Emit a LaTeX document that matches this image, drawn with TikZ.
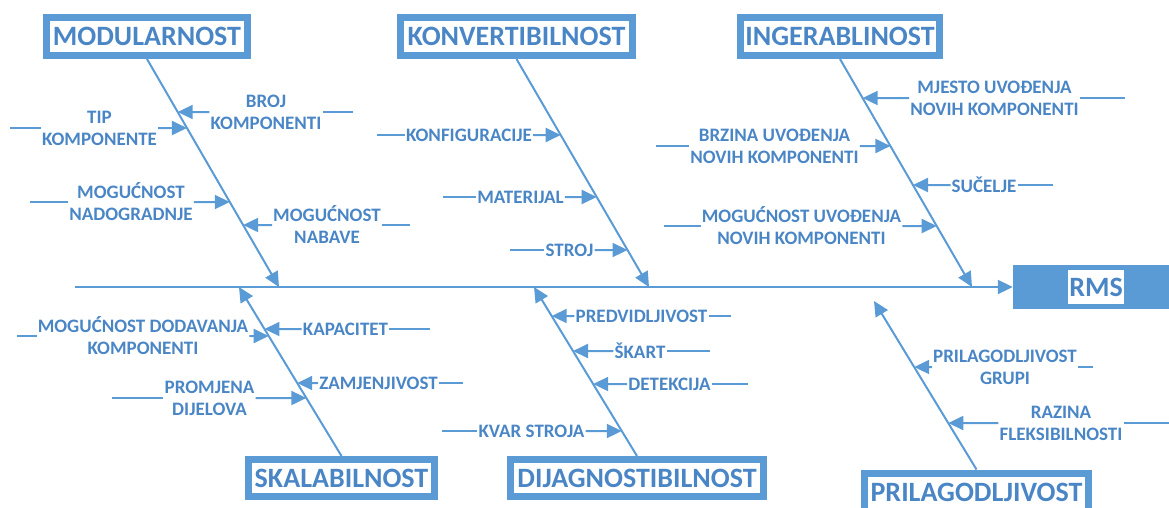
\documentclass[tikz,border=0pt]{standalone}
\usepackage{fontspec}
\setmainfont{Carlito}
\usetikzlibrary{arrows.meta}
\definecolor{wblue}{HTML}{5B9BD5}
\definecolor{tblue}{HTML}{4A86C6}
\begin{document}
\begin{tikzpicture}[x=1pt,y=-1pt,
  bone/.style={draw=wblue, line width=2pt},
  arr/.style={bone, -{Triangle[length=15pt,width=14pt]}},
  cat/.style={draw=wblue, line width=7pt, fill=white, text=tblue, font=\bfseries\fontsize{28}{30}\selectfont, minimum height=38pt, inner sep=0pt},
  lab/.style={text=tblue, font=\bfseries\fontsize{19}{22}\selectfont, align=center, inner xsep=1pt, inner ysep=0pt}
]
\clip (0,0) rectangle (1169,508);
% category boxes
\node[cat, minimum width=201pt] (mod) at (147,36.5) {MODULARNOST};
\node[cat, minimum width=232pt] (kon) at (516.5,36.5) {KONVERTIBILNOST};
\node[cat, minimum width=199pt] (ing) at (840,36.5) {INGERABLINOST};
\node[cat, minimum width=186pt, minimum height=37pt] (ska) at (341.5,478) {SKALABILNOST};
\node[cat, minimum width=253pt, minimum height=37pt] (dij) at (637,478) {DIJAGNOSTIBILNOST};
\node[cat, minimum width=224pt] (pri) at (976.5,492) {PRILAGODLJIVOST};
% effect
\node[fill=wblue, minimum width=166pt, minimum height=44pt, inner sep=0pt] (rms) at (1096,287) {};
\node[fill=white, text=tblue, font=\bfseries\fontsize{28}{30}\selectfont, inner xsep=1pt, minimum height=34pt] (rmst) at (rms.center) {RMS};
% spine
\coordinate (tail) at (75,287);
\draw[arr] (tail) -- (rms.west);
% bones
\coordinate (bm) at (279,287);
\coordinate (bk) at (649,287);
\coordinate (bi) at (972,287);
\coordinate (bs) at (239,287);
\coordinate (bd) at (534,287);
\coordinate (bp) at (874,301);
\draw[arr] (mod.south) -- (bm);
\draw[arr] (kon.south) -- (bk);
\draw[arr] (ing.south) -- (bi);
\draw[arr] (ska.north) -- (bs);
\draw[arr] (dij.north) -- (bd);
\draw[arr] (pri.north) -- (bp);

% ---- MODULARNOST causes
\node[lab] (l1) at (99.5,128) {TIP\\KOMPONENTE};
\coordinate (s1) at (10,128);
\coordinate (t1) at (intersection of mod.south--bm and 0,128--1,128);
\draw[bone] (s1) -- (l1); \draw[arr] (l1) -- (t1);

\node[lab] (l2) at (266,112) {BROJ\\KOMPONENTI};
\coordinate (s2) at (353,112);
\coordinate (t2) at (intersection of mod.south--bm and 0,112--1,112);
\draw[bone] (s2) -- (l2); \draw[arr] (l2) -- (t2);

\node[lab] (l3) at (131,202) {MOGUĆNOST\\NADOGRADNJE};
\coordinate (s3) at (30,202);
\coordinate (t3) at (intersection of mod.south--bm and 0,202--1,202);
\draw[bone] (s3) -- (l3); \draw[arr] (l3) -- (t3);

\node[lab] (l4) at (327,225) {MOGUĆNOST\\NABAVE};
\coordinate (s4) at (410,225);
\coordinate (t4) at (intersection of mod.south--bm and 0,225--1,225);
\draw[bone] (s4) -- (l4); \draw[arr] (l4) -- (t4);

% ---- KONVERTIBILNOST causes
\node[lab] (l5) at (469,135) {KONFIGURACIJE};
\coordinate (s5) at (377,135);
\coordinate (t5) at (intersection of kon.south--bk and 0,135--1,135);
\draw[bone] (s5) -- (l5); \draw[arr] (l5) -- (t5);

\node[lab] (l6) at (520.5,197) {MATERIJAL};
\coordinate (s6) at (443,197);
\coordinate (t6) at (intersection of kon.south--bk and 0,197--1,197);
\draw[bone] (s6) -- (l6); \draw[arr] (l6) -- (t6);

\node[lab] (l7) at (569.5,250) {STROJ};
\coordinate (s7) at (510,250);
\coordinate (t7) at (intersection of kon.south--bk and 0,250--1,250);
\draw[bone] (s7) -- (l7); \draw[arr] (l7) -- (t7);

% ---- INGERABLINOST causes
\node[lab] (l8) at (994.5,98) {MJESTO UVOĐENJA\\NOVIH KOMPONENTI};
\coordinate (s8) at (1125,98);
\coordinate (t8) at (intersection of ing.south--bi and 0,98--1,98);
\draw[bone] (s8) -- (l8); \draw[arr] (l8) -- (t8);

\node[lab] (l9) at (774.5,146) {BRZINA UVOĐENJA\\NOVIH KOMPONENTI};
\coordinate (s9) at (656,146);
\coordinate (t9) at (intersection of ing.south--bi and 0,146--1,146);
\draw[bone] (s9) -- (l9); \draw[arr] (l9) -- (t9);

\node[lab] (l10) at (984,185) {SUČELJE};
\coordinate (s10) at (1053,185);
\coordinate (t10) at (intersection of ing.south--bi and 0,185--1,185);
\draw[bone] (s10) -- (l10); \draw[arr] (l10) -- (t10);

\node[lab] (l11) at (801.5,226) {MOGUĆNOST UVOĐENJA\\NOVIH KOMPONENTI};
\coordinate (s11) at (664,226);
\coordinate (t11) at (intersection of ing.south--bi and 0,226--1,226);
\draw[bone] (s11) -- (l11); \draw[arr] (l11) -- (t11);

% ---- SKALABILNOST causes
\node[lab] (l12) at (143,336) {MOGUĆNOST DODAVANJA\\KOMPONENTI};
\coordinate (s12) at (17,336);
\coordinate (t12) at (intersection of ska.north--bs and 0,336--1,336);
\draw[bone] (s12) -- (l12); \draw[arr] (l12) -- (t12);

\node[lab] (l13) at (345.5,329) {KAPACITET};
\coordinate (s13) at (430,329);
\coordinate (t13) at (intersection of ska.north--bs and 0,329--1,329);
\draw[bone] (s13) -- (l13); \draw[arr] (l13) -- (t13);

\node[lab] (l14) at (378.5,383) {ZAMJENJIVOST};
\coordinate (s14) at (463,383);
\coordinate (t14) at (intersection of ska.north--bs and 0,383--1,383);
\draw[bone] (s14) -- (l14); \draw[arr] (l14) -- (t14);

\node[lab] (l15) at (209.5,398) {PROMJENA\\DIJELOVA};
\coordinate (s15) at (112,398);
\coordinate (t15) at (intersection of ska.north--bs and 0,398--1,398);
\draw[bone] (s15) -- (l15); \draw[arr] (l15) -- (t15);

% ---- DIJAGNOSTIBILNOST causes
\node[lab] (l16) at (641.5,316) {PREDVIDLJIVOST};
\coordinate (s16) at (731,316);
\coordinate (t16) at (intersection of dij.north--bd and 0,316--1,316);
\draw[bone] (s16) -- (l16); \draw[arr] (l16) -- (t16);

\node[lab] (l17) at (640,351) {ŠKART};
\coordinate (s17) at (710,351);
\coordinate (t17) at (intersection of dij.north--bd and 0,351--1,351);
\draw[bone] (s17) -- (l17); \draw[arr] (l17) -- (t17);

\node[lab] (l18) at (669.5,384) {DETEKCIJA};
\coordinate (s18) at (748,384);
\coordinate (t18) at (intersection of dij.north--bd and 0,384--1,384);
\draw[bone] (s18) -- (l18); \draw[arr] (l18) -- (t18);

\node[lab] (l19) at (531.5,431) {KVAR STROJA};
\coordinate (s19) at (442,431);
\coordinate (t19) at (intersection of dij.north--bd and 0,431--1,431);
\draw[bone] (s19) -- (l19); \draw[arr] (l19) -- (t19);

% ---- PRILAGODLJIVOST causes
\node[lab] (l20) at (1005,367) {PRILAGODLJIVOST\\GRUPI};
\coordinate (s20) at (1093,367);
\coordinate (t20) at (intersection of pri.north--bp and 0,367--1,367);
\draw[bone] (s20) -- (l20); \draw[arr] (l20) -- (t20);

\node[lab] (l21) at (1061,423) {RAZINA\\FLEKSIBILNOSTI};
\coordinate (s21) at (1169,423);
\coordinate (t21) at (intersection of pri.north--bp and 0,423--1,423);
\draw[bone] (s21) -- (l21); \draw[arr] (l21) -- (t21);
\end{tikzpicture}
\end{document}
